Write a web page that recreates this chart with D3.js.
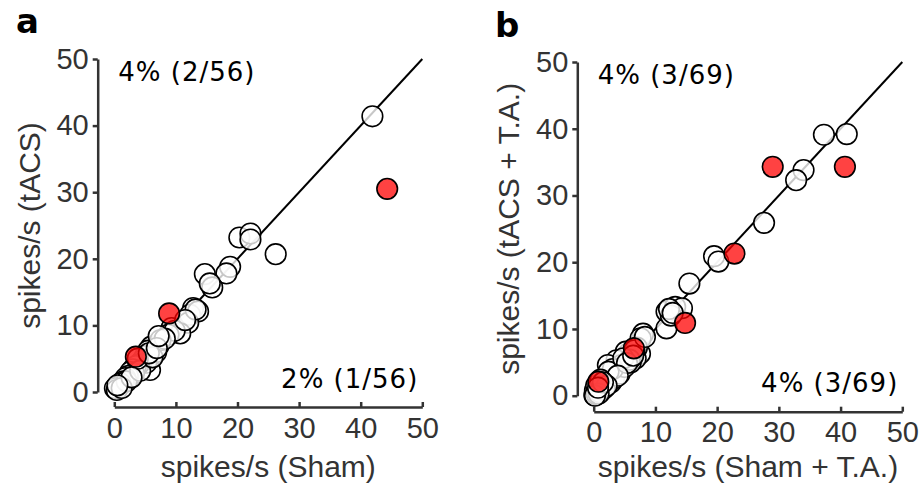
<!DOCTYPE html>
<html>
<head>
<meta charset="utf-8">
<script src="https://cdn.jsdelivr.net/npm/d3@7"></script>
<style>
  body { margin: 0; background: #fff; }
  svg text { font-family: "Liberation Sans", Arial, sans-serif; }
</style>
</head>
<body>
<div id="chart"></div>
<script>
// ---- data ----
var ticks = [0, 10, 20, 30, 40, 50]

// panel a : Sham vs tACS (56 units)
var shamA = [41.9,26.2,20.3,22.1,22.1,18.8,18.2,14.7,15.9,15.5,12.8,12.3,13.6,12.0,13.2,9.3,10.7,8.8,9.8,7.2,6.5,6.0,6.8,5.5,5.8,5.0,4.6,5.2,4.0,3.5,3.0,2.6,3.2,2.2,1.8,1.5,1.0,0.8,0.1,0.4,2.0,4.2,7.5,6.2,11.5,8.2,3.8,1.2,2.8,5.6,6.9,0.5,7.2]
var tacsA = [41.4,20.7,23.2,23.8,22.9,18.8,17.8,17.7,15.7,16.3,12.6,11.6,12.1,10.4,12.4,9.6,8.8,8.6,9.2,7.0,6.4,6.8,6.0,6.2,3.3,5.4,4.8,4.4,4.2,3.9,3.4,3.0,2.8,2.4,2.1,1.6,1.3,0.9,0.55,0.3,1.6,3.2,7.8,5.2,10.8,8.0,5.0,0.6,2.2,5.8,6.6,1.0,8.4]
var sigShamA = [44.3, 8.9, 3.5]
var sigTacsA = [30.5, 11.8, 5.3]

// panel b : Sham + T.A. vs tACS + T.A. (69 units)
var shamB = [41.0,37.3,34.0,32.8,27.6,19.5,20.2,15.5,11.8,13.2,14.3,11.8,12.5,12.2,8.0,7.6,5.6,7.5,6.8,6.2,5.2,3.7,4.5,4.0,3.5,3.0,2.6,2.3,2.0,1.6,1.2,0.9,0.6,0.3,0.1,0.2,0.5,1.0,1.4,2.8,3.3,4.2,5.0,6.0,7.0,6.6,8.3,5.8,1.8,0.4,3.1,2.4,4.8,5.4,3.9,1.1,2.1,0.8,0.2,6.4,12.8,1.5,0.7]
var tacsB = [39.2,39.1,33.8,32.3,25.9,20.9,20.1,16.8,12.6,13.3,13.1,10.1,12.0,13.0,9.3,8.6,6.3,6.3,5.6,5.8,6.6,5.3,4.6,4.0,3.6,3.2,2.8,4.6,2.2,1.8,1.4,1.0,0.7,0.4,0.1,0.8,0.2,0.5,0.9,2.0,2.6,3.3,4.3,5.0,7.2,6.8,8.8,5.4,1.2,1.5,4.0,3.6,5.6,4.9,3.0,2.4,1.5,0.3,0.0,6.0,12.4,2.0,1.2]
var sigShamB = [0.75, 6.5, 29.0, 40.7, 14.8, 22.8]
var sigTacsB = [2.1, 7.1, 34.3, 34.3, 10.9, 21.3]

var letters = ['a', 'b']
var xLabels = ['spikes/s (Sham)', 'spikes/s (Sham + T.A.)']
var yLabels = ['spikes/s (tACS)', 'spikes/s (tACS + T.A.)']
var upperNotes = ['4% (2/56)', '4% (3/69)']
var lowerNotes = ['2% (1/56)', '4% (3/69)']

var W = 920, H = 493
var svg = d3.select('#chart').append('svg').attr('width', W).attr('height', H)

var panels = [
  { ox: 0,   xr: [114.3, 422.3], yr: [392, 59],   xAxisY: 407,   yAxisX: 97.7,
    white: d3.zip(shamA, tacsA), red: d3.zip(sigShamA, sigTacsA) },
  { ox: 460, xr: [133.7, 442.3], yr: [395.7, 62], xAxisY: 411.7, yAxisX: 117.3,
    white: d3.zip(shamB, tacsB), red: d3.zip(sigShamB, sigTacsB) }
]

panels.forEach(function(p, i){
  var g = svg.append('g').attr('transform', 'translate(' + p.ox + ',0)')
  var x = d3.scaleLinear().domain([0, 50]).range(p.xr)
  var y = d3.scaleLinear().domain([0, 50]).range(p.yr)

  // axes
  var xa = g.append('g').attr('transform', 'translate(0,' + p.xAxisY + ')')
    .call(d3.axisBottom(x).tickValues(ticks).tickSize(5).tickSizeOuter(0).tickPadding(5))
  var ya = g.append('g').attr('transform', 'translate(' + p.yAxisX + ',0)')
    .call(d3.axisLeft(y).tickValues(ticks).tickSize(5).tickSizeOuter(0).tickPadding(4))
  ;[xa, ya].forEach(function(a){
    a.select('.domain').attr('stroke', '#333').attr('stroke-width', 2.5)
    a.selectAll('.tick line').attr('stroke', '#333').attr('stroke-width', 2.5)
    a.selectAll('.tick text').attr('fill', '#333').style('font-size', '29px')
      .style('font-family', '"Liberation Sans", Arial, sans-serif')
  })
  xa.selectAll('.tick line').attr('y2', -5)

  // identity line
  g.append('line')
    .attr('x1', x(0)).attr('y1', y(0)).attr('x2', x(50)).attr('y2', y(50))
    .attr('stroke', '#000').attr('stroke-width', 2)

  // points
  g.selectAll('circle.w').data(p.white).enter().append('circle')
    .attr('class', 'w')
    .attr('cx', function(d){ return x(d[0]) })
    .attr('cy', function(d){ return y(d[1]) })
    .attr('r', 10.3)
    .attr('fill', '#fff').attr('fill-opacity', 0.78)
    .attr('stroke', '#000').attr('stroke-width', 1.6)
  g.selectAll('circle.r').data(p.red).enter().append('circle')
    .attr('class', 'r')
    .attr('cx', function(d){ return x(d[0]) })
    .attr('cy', function(d){ return y(d[1]) })
    .attr('r', 10.3)
    .attr('fill', '#ff0000').attr('fill-opacity', 0.74)
    .attr('stroke', '#000').attr('stroke-width', 1.6)

  // labels
  g.append('text').attr('x', (p.xr[0] + p.xr[1]) / 2).attr('y', 477)
    .attr('text-anchor', 'middle').attr('fill', '#333').style('font-size', '30px')
    .text(xLabels[i])
  var cy = (p.yr[0] + p.yr[1]) / 2
  g.append('text').attr('transform', 'translate(' + (p.yAxisX - 58) + ',' + cy + ') rotate(-90)')
    .attr('text-anchor', 'middle').attr('fill', '#333').style('font-size', '30px')
    .text(yLabels[i])

  g.append('text').attr('x', p.xr[0] + 4).attr('y', p.yr[1] + 22)
    .style('font-family', '"DejaVu Sans", Verdana, sans-serif').style('font-size', '26px')
    .style('letter-spacing', '1px')
    .attr('fill', '#000').text(upperNotes[i])
  g.append('text').attr('x', p.xr[1] - 4).attr('y', p.yr[0] - 4)
    .attr('text-anchor', 'end')
    .style('font-family', '"DejaVu Sans", Verdana, sans-serif').style('font-size', '26px')
    .style('letter-spacing', '1px')
    .attr('fill', '#000').text(lowerNotes[i])

  g.append('text').attr('x', i == 0 ? 16 : 35).attr('y', i == 0 ? 33 : 37)
    .style('font-family', '"DejaVu Sans", Arial, sans-serif').style('font-weight', 'bold')
    .style('font-size', '34px').attr('fill', '#000').text(letters[i])
})
</script>
</body>
</html>
